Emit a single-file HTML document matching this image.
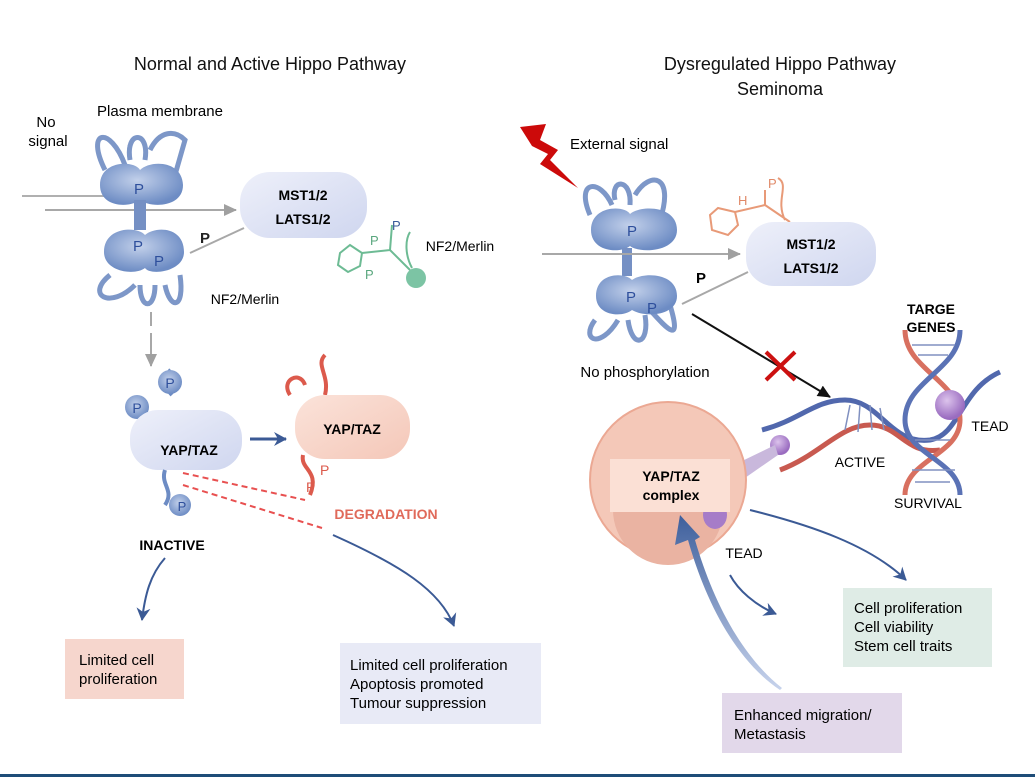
<!DOCTYPE html>
<html><head><meta charset="utf-8"><style>
body{margin:0;background:#fff;}
svg{display:block;font-family:"Liberation Sans",sans-serif;}
</style></head><body>
<svg width="1035" height="777" viewBox="0 0 1035 777" xmlns="http://www.w3.org/2000/svg">
<defs>
<radialGradient id="bl" cx="45%" cy="40%" r="60%"><stop offset="0" stop-color="#c2d0ea"/><stop offset="1" stop-color="#6d8cc4"/></radialGradient>
<linearGradient id="lav" x1="0" y1="0" x2="1" y2="1"><stop offset="0" stop-color="#eef0fa"/><stop offset="1" stop-color="#cfd6ef"/></linearGradient>
<linearGradient id="pk" x1="0" y1="0" x2="1" y2="1"><stop offset="0" stop-color="#fbe3da"/><stop offset="1" stop-color="#f4c7b8"/></linearGradient>
<radialGradient id="pu" cx="40%" cy="35%" r="60%"><stop offset="0" stop-color="#dcc3ec"/><stop offset="1" stop-color="#9a6cc0"/></radialGradient>
<linearGradient id="up" x1="0" y1="1" x2="0" y2="0"><stop offset="0" stop-color="#c7d3ec"/><stop offset="1" stop-color="#3e5f9c"/></linearGradient>
<marker id="ag" markerUnits="userSpaceOnUse" markerWidth="14" markerHeight="14" refX="12" refY="7" orient="auto"><path d="M0,1 L13,7 L0,13z" fill="#a0a0a0"/></marker>
<marker id="ab" markerUnits="userSpaceOnUse" markerWidth="14" markerHeight="16" refX="12" refY="8" orient="auto"><path d="M0,1 L13,8 L0,15 L4,8z" fill="#3b5a95"/></marker>
<marker id="ak" markerUnits="userSpaceOnUse" markerWidth="14" markerHeight="14" refX="12" refY="7" orient="auto"><path d="M0,1 L13,7 L0,13z" fill="#111"/></marker>
</defs>

<text x="270" y="70" font-size="18" text-anchor="middle" fill="#111">Normal and Active Hippo Pathway</text>
<text x="780" y="70" font-size="18" text-anchor="middle" fill="#111">Dysregulated Hippo Pathway</text>
<text x="780" y="95" font-size="18" text-anchor="middle" fill="#111">Seminoma</text>

<!-- LEFT -->
<text x="46" y="127" font-size="15" text-anchor="middle">No</text>
<text x="48" y="146" font-size="15" text-anchor="middle">signal</text>
<text x="160" y="116" font-size="15" text-anchor="middle">Plasma membrane</text>

<g fill="none" stroke="#7d97c8" stroke-width="5">
<path d="M105,170 C85,130 110,125 125,165"/><path d="M130,160 C125,130 150,130 145,160"/>
<path d="M150,150 C160,130 175,130 185,140 L175,175"/>
<path d="M110,275 C85,295 110,310 135,285"/><path d="M140,285 C140,310 155,310 155,285"/>
<path d="M165,285 C170,310 185,310 180,275"/>
</g>
<rect x="22" y="195" width="90" height="2" fill="#b0b0b0"/>
<line x1="45" y1="210" x2="236" y2="210" stroke="#a8a8a8" stroke-width="2" marker-end="url(#ag)"/>
<path d="M100,185 C100,160 135,160 140,170 C150,160 182,160 183,185 C183,208 150,208 140,200 C130,208 100,208 100,185z" fill="url(#bl)"/>
<rect x="134" y="200" width="12" height="30" fill="#7590c4"/>
<path d="M104,252 C104,226 138,226 145,235 C155,226 184,226 184,252 C184,272 150,276 145,268 C135,276 104,272 104,252z" fill="url(#bl)"/>
<text x="139" y="194" font-size="15" fill="#2e4f9c" text-anchor="middle">P</text>
<text x="138" y="251" font-size="15" fill="#2e4f9c" text-anchor="middle">P</text>
<text x="159" y="266" font-size="15" fill="#2e4f9c" text-anchor="middle">P</text>
<line x1="190" y1="253" x2="244" y2="228" stroke="#a8a8a8" stroke-width="2"/>
<text x="205" y="243" font-size="15" font-weight="bold" fill="#222" text-anchor="middle">P</text>
<rect x="240" y="172" width="127" height="66" rx="30" fill="url(#lav)"/>
<text x="303" y="200" font-size="14" font-weight="bold" text-anchor="middle">MST1/2</text>
<text x="303" y="224" font-size="14" font-weight="bold" text-anchor="middle">LATS1/2</text>
<text x="245" y="304" font-size="14" text-anchor="middle">NF2/Merlin</text>
<g stroke="#6dbb94" stroke-width="2" fill="none"><path d="M340,253 L350,245 L362,253 L360,266 L348,272 L338,265z"/><path d="M362,253 L390,250 L410,270 M390,250 L392,225 M410,232 C405,240 405,255 412,268"/></g>
<circle cx="416" cy="278" r="10" fill="#7cc4a4"/>
<text x="370" y="245" font-size="13" fill="#5aa77e">P</text><text x="365" y="279" font-size="13" fill="#5aa77e">P</text>
<text x="392" y="230" font-size="13" fill="#3a5a9a">P</text>
<text x="460" y="251" font-size="14" text-anchor="middle">NF2/Merlin</text>

<line x1="151" y1="312" x2="151" y2="326" stroke="#a8a8a8" stroke-width="2"/>
<line x1="151" y1="333" x2="151" y2="366" stroke="#a8a8a8" stroke-width="2" marker-end="url(#ag)"/>
<path d="M172,395 C162,385 175,375 168,370" stroke="#6d8cc4" stroke-width="4" fill="none"/>
<circle cx="170" cy="382" r="12" fill="url(#bl)"/><text x="170" y="388" font-size="14" fill="#2e4f9c" text-anchor="middle">P</text>
<circle cx="137" cy="407" r="12" fill="url(#bl)"/><text x="137" y="413" font-size="14" fill="#2e4f9c" text-anchor="middle">P</text>
<rect x="130" y="410" width="112" height="60" rx="28" fill="url(#lav)"/>
<text x="189" y="455" font-size="14" font-weight="bold" text-anchor="middle">YAP/TAZ</text>
<path d="M165,470 C160,485 175,490 165,505" stroke="#6d8cc4" stroke-width="4" fill="none"/>
<circle cx="180" cy="505" r="11" fill="url(#bl)"/><text x="182" y="511" font-size="13" fill="#2e4f9c" text-anchor="middle">P</text>
<text x="172" y="550" font-size="14" font-weight="bold" text-anchor="middle">INACTIVE</text>
<line x1="250" y1="439" x2="286" y2="439" stroke="#3b5a95" stroke-width="3" marker-end="url(#ab)"/>
<g stroke="#dc5a4c" stroke-width="4" fill="none"><path d="M290,395 C280,380 300,370 305,385"/><path d="M325,395 C330,375 315,365 325,355"/><path d="M303,455 C300,470 320,470 310,495"/></g>
<rect x="295" y="395" width="115" height="64" rx="30" fill="url(#pk)"/>
<text x="352" y="434" font-size="14" font-weight="bold" text-anchor="middle">YAP/TAZ</text>
<text x="320" y="475" font-size="14" fill="#dc5a4c">P</text><text x="306" y="492" font-size="14" fill="#dc5a4c">P</text>
<g stroke="#e85050" stroke-width="2" stroke-dasharray="6,4"><line x1="183" y1="473" x2="305" y2="500"/><line x1="183" y1="485" x2="322" y2="528"/></g>
<text x="386" y="519" font-size="14" font-weight="bold" fill="#e06a5a" text-anchor="middle">DEGRADATION</text>
<path d="M165,558 C150,575 145,595 142,620" stroke="#3b5a95" stroke-width="2" fill="none" marker-end="url(#ab)"/>
<path d="M333,535 C400,565 440,590 454,626" stroke="#3b5a95" stroke-width="2" fill="none" marker-end="url(#ab)"/>
<rect x="65" y="639" width="119" height="60" fill="#f6d6cd"/>
<text x="79" y="665" font-size="15">Limited cell</text><text x="79" y="684" font-size="15">proliferation</text>
<rect x="340" y="643" width="201" height="81" fill="#e8eaf6"/>
<text x="350" y="670" font-size="15">Limited cell proliferation</text>
<text x="350" y="689" font-size="15">Apoptosis promoted</text>
<text x="350" y="708" font-size="15">Tumour suppression</text>

<!-- RIGHT -->
<path d="M520,127 L546,124 L540,140 L558,150 L550,160 L578,188 L540,164 L548,154 L532,146z" fill="#cc0a0a"/>
<text x="570" y="149" font-size="15">External signal</text>
<g fill="none" stroke="#7d97c8" stroke-width="5">
<path d="M590,215 C575,180 600,178 612,205"/><path d="M615,200 C610,178 632,178 630,205"/>
<path d="M635,195 C650,170 675,175 660,220"/>
<path d="M595,320 C580,340 600,350 618,320"/><path d="M628,320 C632,350 650,345 645,315"/>
<path d="M650,310 C668,330 682,345 670,305"/>
</g>
<path d="M591,230 C591,205 625,205 630,214 C640,205 677,205 677,230 C677,252 640,254 630,246 C620,254 591,252 591,230z" fill="url(#bl)"/>
<rect x="622" y="248" width="10" height="28" fill="#7590c4"/>
<path d="M596,296 C596,272 625,272 632,280 C642,272 677,272 677,296 C677,316 645,318 632,310 C622,318 596,316 596,296z" fill="url(#bl)"/>
<text x="632" y="236" font-size="15" fill="#2e4f9c" text-anchor="middle">P</text>
<text x="631" y="302" font-size="15" fill="#2e4f9c" text-anchor="middle">P</text>
<text x="652" y="313" font-size="15" fill="#2e4f9c" text-anchor="middle">P</text>
<line x1="542" y1="254" x2="740" y2="254" stroke="#a8a8a8" stroke-width="2" marker-end="url(#ag)"/>
<line x1="682" y1="304" x2="748" y2="272" stroke="#a8a8a8" stroke-width="2"/>
<text x="701" y="283" font-size="15" font-weight="bold" text-anchor="middle">P</text>
<g stroke="#e89a78" stroke-width="2" fill="none"><path d="M710,215 L718,208 L735,212 L738,225 L728,235 L712,230z"/><path d="M735,212 L765,205 L790,222 M765,205 L765,190 M778,178 C790,185 775,200 785,220"/></g>
<text x="738" y="205" font-size="13" fill="#e08a68">H</text><text x="768" y="188" font-size="13" fill="#e08a68">P</text>
<rect x="746" y="222" width="130" height="64" rx="28" fill="url(#lav)"/>
<text x="811" y="249" font-size="14" font-weight="bold" text-anchor="middle">MST1/2</text>
<text x="811" y="273" font-size="14" font-weight="bold" text-anchor="middle">LATS1/2</text>
<text x="645" y="377" font-size="15" text-anchor="middle">No phosphorylation</text>
<line x1="692" y1="314" x2="830" y2="397" stroke="#111" stroke-width="2" marker-end="url(#ak)"/>
<g stroke="#cc1111" stroke-width="4"><line x1="766" y1="352" x2="795" y2="380"/><line x1="795" y1="352" x2="766" y2="380"/></g>
<!-- DNA -->
<g fill="none" stroke-width="5">
<path d="M762,430 C800,420 815,400 845,400 C880,400 890,445 930,440 C960,435 960,390 1000,372" stroke="#5168ad"/>
<path d="M780,470 C820,455 840,425 870,425 C900,425 905,455 940,450" stroke="#c85a50"/>
<path d="M905,330 C905,370 960,380 960,420 C960,455 905,460 905,495" stroke="#d87060"/>
<path d="M960,330 C960,370 905,380 905,420 C905,455 960,460 960,495" stroke="#5a72b5"/>
</g>
<g stroke="#8090c0" stroke-width="1.5">
<line x1="912" y1="345" x2="955" y2="345"/><line x1="918" y1="355" x2="948" y2="355"/><line x1="915" y1="440" x2="950" y2="440"/><line x1="912" y1="470" x2="955" y2="470"/><line x1="915" y1="482" x2="950" y2="482"/>
<line x1="850" y1="405" x2="845" y2="430"/><line x1="860" y1="405" x2="858" y2="432"/><line x1="870" y1="405" x2="872" y2="430"/><line x1="880" y1="408" x2="884" y2="430"/>
</g>
<circle cx="950" cy="405" r="15" fill="url(#pu)"/>
<circle cx="780" cy="445" r="10" fill="url(#pu)"/>
<text x="931" y="314" font-size="14" font-weight="bold" text-anchor="middle">TARGE</text>
<text x="931" y="332" font-size="14" font-weight="bold" text-anchor="middle">GENES</text>
<text x="990" y="431" font-size="14" text-anchor="middle">TEAD</text>
<text x="860" y="467" font-size="14" text-anchor="middle">ACTIVE</text>
<text x="928" y="508" font-size="14" text-anchor="middle">SURVIVAL</text>
<path d="M740,462 L775,445 L778,455 L742,480z" fill="#c9b8dc"/>
<circle cx="668" cy="480" r="78" fill="#f4c8b8" stroke="#eba893" stroke-width="2"/>
<path d="M613,510 A55,55 0 0 0 723,510z" fill="#eab3a2"/>
<ellipse cx="715" cy="515" rx="12" ry="14" fill="#a67cc8"/>
<rect x="610" y="459" width="120" height="53" fill="#fbe0d5"/>
<text x="671" y="481" font-size="14" font-weight="bold" text-anchor="middle">YAP/TAZ</text>
<text x="671" y="500" font-size="14" font-weight="bold" text-anchor="middle">complex</text>
<path d="M780,690 C735,660 705,600 688,540 L675,545 L680,515 L700,537 L695,540 C712,598 740,655 782,688z" fill="url(#up)"/>
<text x="744" y="558" font-size="14" text-anchor="middle">TEAD</text>
<path d="M750,510 C810,525 870,545 906,580" stroke="#3b5a95" stroke-width="2" fill="none" marker-end="url(#ab)"/>
<path d="M730,575 C738,590 755,605 776,614" stroke="#3b5a95" stroke-width="2" fill="none" marker-end="url(#ab)"/>
<rect x="843" y="588" width="149" height="79" fill="#dfece6"/>
<text x="854" y="613" font-size="15">Cell proliferation</text>
<text x="854" y="632" font-size="15">Cell viability</text>
<text x="854" y="651" font-size="15">Stem cell traits</text>
<rect x="722" y="693" width="180" height="60" fill="#e2d8ea"/>
<text x="734" y="720" font-size="15">Enhanced migration/</text>
<text x="734" y="739" font-size="15">Metastasis</text>
<rect x="0" y="774" width="1035" height="3" fill="#1e4d78"/>
</svg>
</body></html>
